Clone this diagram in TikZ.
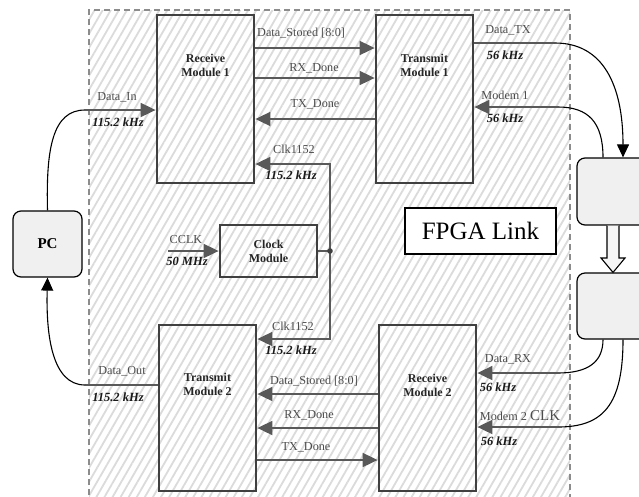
\documentclass[tikz,border=0pt]{standalone}
\usepackage{fontspec}
\setmainfont{Liberation Serif}
\usetikzlibrary{arrows.meta,patterns.meta}
\begin{document}
\begin{tikzpicture}[x=1pt,y=-1pt,
  modbox/.style={draw=black!75,line width=2.8pt,inner sep=0pt},
  modtext/.style={font=\fontsize{12}{14}\selectfont\bfseries,text=black!85,align=center,inner sep=0pt},
  sig/.style={draw=black!65,line width=1.8pt,-{Triangle[length=15pt,width=14pt,fill=black!65]}},
  sigplain/.style={draw=black!65,line width=1.8pt},
  ext/.style={draw=black,line width=1.1pt},
  extarr/.style={ext,-{Triangle[length=13pt,width=12pt]}},
  lbl/.style={font=\fontsize{12.2}{14}\selectfont,text=black!70,inner sep=0pt},
  frq/.style={font=\fontsize{12.5}{14}\selectfont\bfseries\itshape,text=black!90,inner sep=0pt},
  rbox/.style={draw=black,line width=1.2pt,fill=black!6,rounded corners=8pt,inner sep=0pt},
]
\useasboundingbox (0,0) rectangle (639,496);
\fill[white] (0,0) rectangle (639,496);
% FPGA frame
\path[pattern={Lines[angle=60,distance=7pt,line width=1.8pt]},pattern color=black!14] (89,10) rectangle (570,505);
\draw[black!45,line width=1.2pt,dash pattern=on 6pt off 4pt] (89,505) -- (89,10) -- (570,10) -- (570,505);

% modules
\node[modbox,minimum width=97pt,minimum height=168pt] (rm1) at (205.5,99) {};
\node[modtext] (rm1t) at (205.5,65) {Receive\\Module 1};
\node[modbox,minimum width=97pt,minimum height=168pt] (tm1) at (424.5,99) {};
\node[modtext] (tm1t) at (424.5,65) {Transmit\\Module 1};
\node[modbox,minimum width=97pt,minimum height=52pt] (clk) at (268.5,251) {};
\node[modtext] (clkt) at (268.5,251) {Clock\\Module};
\node[modbox,minimum width=97pt,minimum height=166pt] (tm2) at (207.5,408) {};
\node[modtext] (tm2t) at (207.5,384) {Transmit\\Module 2};
\node[modbox,minimum width=97pt,minimum height=166pt] (rm2) at (427.5,408) {};
\node[modtext] (rm2t) at (427.5,385) {Receive\\Module 2};

% FPGA Link
\node[draw=black,line width=1.3pt,fill=white,minimum width=151pt,minimum height=46pt,
  font=\fontsize{25}{27}\selectfont] (fpga) at (480.5,231) {FPGA Link};

% external boxes
\node[rbox,minimum width=69pt,minimum height=66pt,font=\fontsize{15}{17}\selectfont\bfseries] (pc) at (47.5,244) {PC};
\node[rbox,minimum width=73pt,minimum height=67pt] (ub) at (613.5,191.5) {};
\node[rbox,minimum width=73pt,minimum height=66pt] (lb) at (613.5,306) {};
\draw[ext,fill=black!4] (ub.south -| 607,0) -- (607,258) -- (601,258) -- (lb.north -| 613,0) -- (625,258) -- (619,258) -- (ub.south -| 619,0);

% internal signals, top
\draw[sig] (rm1.east |- 0,48) -- (tm1.west |- 0,48);
\node[lbl,anchor=west] (ds1) at (257,33) {Data\_Stored [8:0]};
\draw[sig] (rm1.east |- 0,78) -- (tm1.west |- 0,78);
\node[lbl] (rx1) at (314,68) {RX\_Done};
\draw[sig] (tm1.west |- 0,119) -- (rm1.east |- 0,119);
\node[lbl] (tx1) at (315,104) {TX\_Done};

% clock
\coordinate (j) at (330,251);
\coordinate (ct) at (330,164);
\coordinate (cb) at (330,339);
\coordinate (cc) at (168,251);
\draw[sig] (cc) -- (clk.west);
\node[lbl] (cclk) at (186,240) {CCLK};
\node[frq] (cclkf) at (187,261) {50 MHz};
\draw[sigplain] (clk.east) -- (j);
\draw[sig] (j) -- (ct) -- (rm1.east |- ct);
\draw[sig] (j) -- (cb) -- (tm2.east |- cb);
\fill[black!75] (j) circle[radius=2.8pt];
\node[lbl] (ck1) at (294,149) {Clk1152};
\node[frq] (ck1f) at (291,175) {115.2 kHz};
\node[lbl] (ck2) at (293,326) {Clk1152};
\node[frq] (ck2f) at (291,350) {115.2 kHz};

% internal signals, bottom
\draw[sig] (rm2.west |- 0,394) -- (tm2.east |- 0,394);
\node[lbl] (ds2) at (314,381) {Data\_Stored [8:0]};
\draw[sig] (rm2.west |- 0,428) -- (tm2.east |- 0,428);
\node[lbl] (rx2) at (309,415) {RX\_Done};
\draw[sig] (tm2.east |- 0,460) -- (rm2.west |- 0,460);
\node[lbl] (tx2) at (306,447) {TX\_Done};

% PC links
\coordinate (din) at (85,110);
\draw[ext] (pc.north) .. controls (46,150) and (52,110) .. (din);
\draw[sig] (din) -- (rm1.west |- din);
\node[lbl] (dinl) at (117,97) {Data\_In};
\node[frq] (dinf) at (118,122) {115.2 kHz};
\coordinate (dout) at (85,385);
\draw[sigplain] (tm2.west |- dout) -- (dout);
\draw[extarr] (dout) .. controls (52,385) and (46,335) .. (pc.south);
\node[lbl] (doutl) at (122,371) {Data\_Out};
\node[frq] (doutf) at (118,397) {115.2 kHz};

% modem links
\coordinate (dtx) at (555,43);
\draw[sigplain] (tm1.east |- dtx) -- (dtx);
\draw[extarr] (dtx) .. controls (603,43) and (623,85) .. (ub.north -| 623,0);
\node[lbl] (dtxl) at (508,30) {Data\_TX};
\node[frq] (dtxf) at (505,55) {56 kHz};
\coordinate (m1) at (558,107);
\draw[ext] (ub.north -| 603,0) .. controls (603,122) and (588,107) .. (m1);
\draw[sig] (m1) -- (tm1.east |- m1);
\node[lbl] (m1l) at (505,95) {Modem 1};
\node[frq] (m1f) at (505,118) {56 kHz};

\coordinate (drx) at (558,373);
\draw[ext] (lb.south -| 603,0) .. controls (603,362) and (588,373) .. (drx);
\draw[sig] (drx) -- (rm2.east |- drx);
\node[lbl] (drxl) at (508,359) {Data\_RX};
\node[frq] (drxf) at (498,387) {56 kHz};
\coordinate (m2) at (558,427);
\draw[ext] (lb.south -| 623,0) .. controls (623,405) and (603,427) .. (m2);
\draw[sig] (m2) -- (rm2.east |- m2);
\node[lbl] (m2l) at (520,416) {Modem 2 {\fontsize{15}{16}\selectfont CLK}};
\node[frq] (m2f) at (499,441) {56 kHz};
\end{tikzpicture}
\end{document}
